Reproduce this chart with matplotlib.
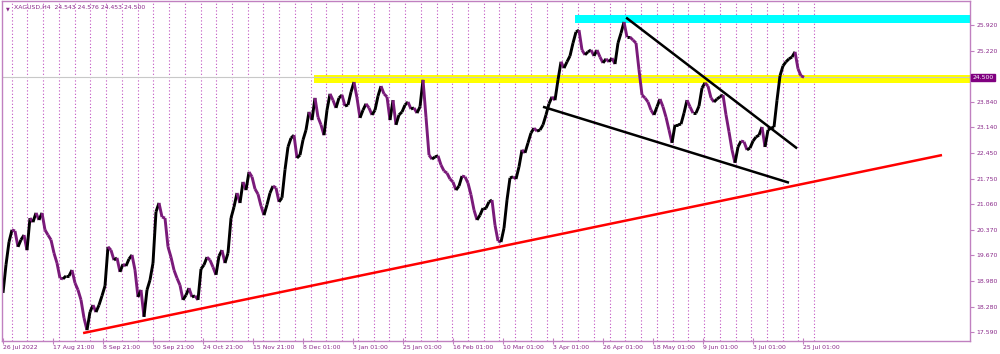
import numpy as np
import matplotlib.pyplot as plt
from matplotlib.collections import LineCollection
from matplotlib.patches import Rectangle

# ============================
# data (XAGUSD H4, one sample every ~1.5 sessions)
# ============================
closes = [
    18.65, 19.41, 20.03, 20.36, 20.33, 19.90, 20.09, 20.22, 19.81, 20.68,
    20.57, 20.82, 20.63, 20.82, 20.36, 20.22, 20.09, 19.73, 19.46, 19.05,
    19.03, 19.11, 19.11, 19.27, 18.92, 18.73, 18.46, 17.97, 17.64, 18.13,
    18.32, 18.13, 18.32, 18.57, 18.84, 19.90, 19.81, 19.54, 19.60, 19.22,
    19.43, 19.38, 19.57, 19.68, 19.27, 18.54, 18.73, 18.00, 18.73, 19.00,
    19.46, 20.85, 21.09, 20.71, 20.68, 19.90, 19.62, 19.27, 19.05, 18.86,
    18.46, 18.59, 18.78, 18.54, 18.57, 18.46, 19.30, 19.41, 19.62, 19.54,
    19.35, 19.14, 19.65, 19.81, 19.46, 19.73, 20.68, 20.98, 21.36, 21.09,
    21.66, 21.44, 21.93, 21.80, 21.47, 21.33, 21.01, 20.76, 21.04, 21.36,
    21.55, 21.50, 21.12, 21.23, 21.99, 22.61, 22.85, 22.93, 22.31, 22.39,
    22.80, 23.07, 23.56, 23.34, 23.94, 23.42, 23.21, 22.93, 23.61, 24.05,
    23.88, 23.67, 23.94, 24.02, 23.72, 23.75, 24.10, 24.37, 23.94, 23.40,
    23.61, 23.78, 23.67, 23.48, 23.61, 23.99, 24.26, 24.05, 23.97, 23.34,
    23.88, 23.21, 23.48, 23.56, 23.75, 23.83, 23.64, 23.67, 23.53, 23.70,
    24.43, 23.42, 22.39, 22.28, 22.34, 22.37, 22.12, 21.96, 21.90, 21.74,
    21.66, 21.44, 21.55, 21.82, 21.80, 21.63, 21.31, 20.90, 20.63, 20.76,
    20.95, 20.95, 21.12, 21.17, 20.49, 20.06, 20.03, 20.41, 21.17, 21.77,
    21.80, 21.74, 22.07, 22.53, 22.45, 22.72, 22.99, 23.12, 23.04, 23.07,
    23.21, 23.48, 23.78, 23.97, 23.88, 24.43, 24.92, 24.75, 24.92, 25.08,
    25.43, 25.73, 25.78, 25.24, 25.11, 25.19, 25.24, 25.08, 25.24, 25.05,
    24.89, 25.00, 24.92, 25.02, 24.86, 25.43, 25.70, 26.00, 25.59, 25.59,
    25.51, 25.43, 24.70, 24.02, 23.94, 23.83, 23.61, 23.48, 23.70, 23.91,
    23.70, 23.42, 23.07, 22.72, 23.21, 23.21, 23.23, 23.53, 23.88, 23.70,
    23.53, 23.53, 23.72, 24.21, 24.35, 24.26, 23.94, 23.83, 23.91, 23.97,
    24.02, 23.48, 23.02, 22.53, 22.18, 22.61, 22.77, 22.75, 22.53, 22.58,
    22.77, 22.88, 22.93, 23.15, 22.61, 23.07, 23.12, 23.15, 23.88, 24.54,
    24.81, 24.92, 25.00, 25.05, 25.19, 24.73, 24.54, 24.50,
]

date_labels = [
    "26 Jul 2022", "17 Aug 21:00", "8 Sep 21:00", "30 Sep 21:00",
    "24 Oct 21:00", "15 Nov 21:00", "8 Dec 01:00", "3 Jan 01:00",
    "25 Jan 01:00", "16 Feb 01:00", "10 Mar 01:00", "3 Apr 01:00",
    "26 Apr 01:00", "18 May 01:00", "9 Jun 01:00", "3 Jul 01:00",
    "25 Jul 01:00",
]
price_ticks = [17.59, 18.28, 18.98, 19.67, 20.37, 21.06, 21.75,
               22.45, 23.14, 23.84, 25.22, 25.92]
last_price = 24.500
header = "XAGUSD,H4  24.543 24.576 24.453 24.500"

# drawn objects as (sample index, price)
red_support = [(26.7, 17.56), (313.0, 22.39)]
wedge_top = [(207.7, 26.12), (264.7, 22.57)]
wedge_bottom = [(180.0, 23.70), (262.0, 21.64)]
yellow_zone = (103.7, 24.34, 24.57)   # start, low, high
cyan_zone = (190.7, 25.96, 26.18)

# ============================
# figure
# ============================
axis_col = "#c080c0"
text_col = "#8a2a8a"
down_col = "#7a1a7a"
fs = 4.4

fig = plt.figure(figsize=(10, 3.54), dpi=100)
ax = fig.add_axes([0.002, 13 / 354, 0.968, 340 / 354])
ax.set_xlim(-0.33, 322.33)
ax.set_ylim(17.345, 26.57)

# weekly separators
for xs in np.arange(2.9, 273, 5.245):
    ax.axvline(xs, color="#c050c0", lw=0.8, ls=(0, (1, 2)), zorder=0)

# zones
x_right = 322.33
ax.add_patch(Rectangle((yellow_zone[0], yellow_zone[1]), x_right - yellow_zone[0],
                       yellow_zone[2] - yellow_zone[1], color="#ffff00", lw=0, zorder=1))
ax.add_patch(Rectangle((cyan_zone[0], cyan_zone[1]), x_right - cyan_zone[0],
                       cyan_zone[2] - cyan_zone[1], color="#00ffff", lw=0, zorder=1))

# bid line
ax.axhline(last_price, color="#c8c8c8", lw=0.8, zorder=1.5)

# price path, coloured by direction like the candles
c = np.array(closes)
x = np.arange(len(c))
segs = [[(x[i - 1], c[i - 1]), (x[i], c[i])] for i in range(1, len(c))]
cols = ["black" if c[i] >= c[i - 1] else down_col for i in range(1, len(c))]
ax.add_collection(LineCollection(segs, colors=cols, linewidths=2.1,
                                 capstyle="butt", zorder=2))

# trend lines
for pts, col in [(red_support, "red"), (wedge_top, "black"), (wedge_bottom, "black")]:
    ax.plot([p[0] for p in pts], [p[1] for p in pts], color=col, lw=1.8,
            solid_capstyle="butt", zorder=3)

# axes styling
for s in ax.spines.values():
    s.set_color(axis_col)
    s.set_linewidth(1)

ax.yaxis.tick_right()
ax.set_yticks(price_ticks)
ax.set_yticklabels([f"{v:.3f}" for v in price_ticks])
ax.tick_params(axis="y", colors=axis_col, labelcolor=text_col, labelsize=fs,
               length=3, pad=1.5, direction="out")

ax.set_xticks([k * 50 / 3 for k in range(len(date_labels))])
ax.set_xticklabels(date_labels, ha="left")
ax.tick_params(axis="x", colors=axis_col, labelcolor=text_col, labelsize=fs,
               length=4, pad=1, direction="inout")

# current price box
ax.annotate(f"{last_price:.3f}", xy=(1.0, last_price), xycoords=("axes fraction", "data"),
            xytext=(1.5, 0), textcoords="offset points", va="center", ha="left",
            fontsize=fs, color="white",
            bbox=dict(boxstyle="square,pad=0.2", fc="#800080", ec="#800080"))

# header
ax.text(0.004, 0.985, "\u25bc", transform=ax.transAxes, fontsize=3.5, color=text_col,
        va="top", ha="left")
ax.text(0.012, 0.99, header, transform=ax.transAxes, fontsize=fs, color=text_col,
        va="top", ha="left")

fig.savefig("out.png", dpi=100)
